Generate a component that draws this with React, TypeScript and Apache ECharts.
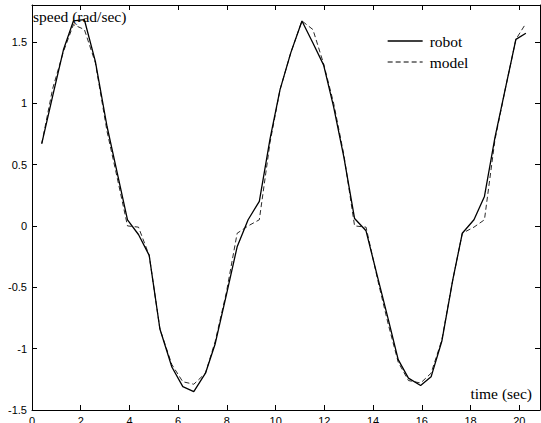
import React, { useEffect, useRef } from "react";
import * as echarts from "echarts";

// Sample instants (sec) shared by both traces
const time = [
  0.4, 0.85, 1.29, 1.7, 2.15, 2.6, 3.08, 3.5, 3.92, 4.37, 4.81, 5.25, 5.74, 6.19, 6.64,
  7.12, 7.52, 7.98, 8.42, 8.87, 9.33, 9.77, 10.18, 10.62, 11.08, 11.53, 11.97, 12.38,
  12.8, 13.24, 13.71, 14.2, 14.62, 15.03, 15.45, 15.95, 16.38, 16.82, 17.27, 17.66,
  18.14, 18.57, 19.0, 19.43, 19.86, 20.27,
];

// Measured wheel speed (rad/sec)
const robot = [
  0.67, 1.06, 1.435, 1.67, 1.68, 1.34, 0.81, 0.43, 0.05, -0.07, -0.24, -0.84, -1.15,
  -1.31, -1.35, -1.2, -0.96, -0.56, -0.17, 0.05, 0.2, 0.71, 1.11, 1.41, 1.67, 1.49,
  1.31, 0.97, 0.56, 0.06, -0.04, -0.43, -0.76, -1.09, -1.24, -1.3, -1.23, -0.94, -0.44,
  -0.06, 0.05, 0.24, 0.72, 1.12, 1.52, 1.57,
];

// Simulated wheel speed (rad/sec)
const model = [
  0.67, 1.12, 1.42, 1.64, 1.6, 1.33, 0.77, 0.39, 0.0, -0.01, -0.24, -0.84, -1.13,
  -1.27, -1.29, -1.2, -0.94, -0.54, -0.06, 0.0, 0.05, 0.68, 1.11, 1.41, 1.67, 1.6,
  1.32, 1.0, 0.58, 0.0, -0.01, -0.45, -0.8, -1.11, -1.26, -1.28, -1.2, -0.93, -0.44,
  -0.06, -0.01, 0.05, 0.7, 1.12, 1.52, 1.65,
];

const seriesNames = ["robot", "model"];
const yLabel = "speed (rad/sec)";
const xLabel = "time (sec)";

const SERIF = "'Liberation Serif', 'Times New Roman', serif";
const SANS = "'Liberation Sans', Arial, sans-serif";
const DASH = [5, 3];
const HIDDEN_SYMBOL = { color: "rgba(0,0,0,0)", borderWidth: 0, opacity: 0 };

export default function App() {
  const ref = useRef<HTMLDivElement>(null);

  useEffect(() => {
    if (!ref.current) return;
    const chart = echarts.init(ref.current, undefined, { renderer: "svg" });

    const axisCommon = {
      axisLine: { show: true, onZero: false, lineStyle: { color: "#000", width: 1 } },
      axisTick: { show: true, inside: true, length: 5, lineStyle: { color: "#000", width: 1 } },
      splitLine: { show: false },
    };

    chart.setOption({
      animation: false,
      backgroundColor: "#fff",
      grid: {
        left: 32,
        top: 5,
        right: 1,
        bottom: 13,
        containLabel: false,
        outerBoundsMode: "none",
      },
      legend: {
        orient: "vertical",
        left: 387,
        top: 33,
        padding: 0,
        itemWidth: 35,
        itemHeight: 14,
        itemGap: 5,
        textStyle: { fontFamily: SERIF, fontSize: 15.5, color: "#000", padding: [0, 0, 0, 2] },
        data: [
          {
            name: seriesNames[0],
            itemStyle: HIDDEN_SYMBOL,
            lineStyle: { color: "#000", width: 1.3, type: "solid" },
          },
          {
            name: seriesNames[1],
            itemStyle: HIDDEN_SYMBOL,
            lineStyle: { color: "#000", width: 1, type: DASH },
          },
        ],
      },
      xAxis: [
        {
          type: "value",
          min: 0,
          max: 20.85,
          interval: 2,
          position: "bottom",
          ...axisCommon,
          axisLabel: {
            show: true,
            showMaxLabel: false,
            margin: 5,
            color: "#000",
            fontFamily: SANS,
            fontSize: 11,
          },
        },
        {
          type: "value",
          min: 0,
          max: 20.85,
          interval: 2,
          position: "top",
          ...axisCommon,
          axisLabel: { show: false },
        },
      ],
      yAxis: [
        {
          type: "value",
          min: -1.5,
          max: 1.8,
          interval: 0.5,
          position: "left",
          ...axisCommon,
          axisLabel: {
            show: true,
            showMaxLabel: false,
            margin: 5,
            color: "#000",
            fontFamily: SANS,
            fontSize: 11,
          },
        },
        {
          type: "value",
          min: -1.5,
          max: 1.8,
          interval: 0.5,
          position: "right",
          ...axisCommon,
          axisLabel: { show: false },
        },
      ],
      series: [
        {
          name: seriesNames[0],
          type: "line",
          data: time.map((t, i) => [t, robot[i]]),
          symbol: "none",
          lineStyle: { color: "#000", width: 1.3, type: "solid" },
          itemStyle: { color: "#000" },
          z: 3,
        },
        {
          name: seriesNames[1],
          type: "line",
          data: time.map((t, i) => [t, model[i]]),
          symbol: "none",
          lineStyle: { color: "#111", width: 0.9, type: DASH },
          itemStyle: { color: "#000" },
          z: 2,
        },
      ],
      graphic: [
        {
          type: "text",
          x: 33,
          y: 16,
          style: {
            text: yLabel,
            font: `15.5px ${SERIF}`,
            fill: "#000",
            textAlign: "left",
            textVerticalAlign: "middle",
            align: "left",
            verticalAlign: "middle",
          },
        },
        {
          type: "text",
          x: 532,
          y: 393,
          style: {
            text: xLabel,
            font: `15.5px ${SERIF}`,
            fill: "#000",
            textAlign: "right",
            textVerticalAlign: "middle",
            align: "right",
            verticalAlign: "middle",
          },
        },
      ],
    });

    return () => chart.dispose();
  }, []);

  return (
    <div
      ref={ref}
      style={{ position: "fixed", left: 0, top: 0, width: 541, height: 423, background: "#fff" }}
    />
  );
}
